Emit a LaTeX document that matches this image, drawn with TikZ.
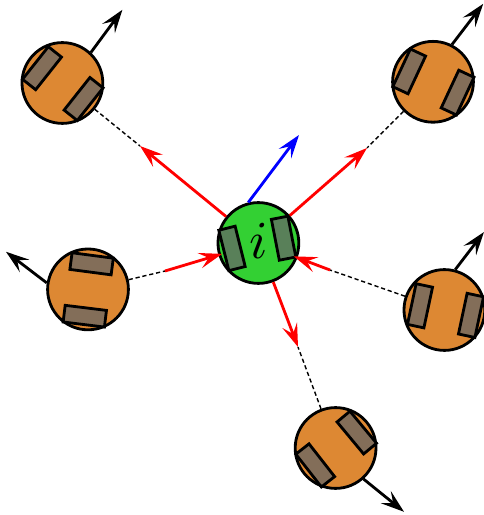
\documentclass[tikz,border=0pt]{standalone}
\usetikzlibrary{arrows.meta}
\definecolor{bodyorange}{RGB}{221,136,51}
\definecolor{bodygreen}{RGB}{51,208,51}
\tikzset{
    agent/.style={circle,draw,line width=2pt,minimum size=2.02cm,inner sep=0pt,fill=bodyorange},
    wheel/.style={rectangle,draw,line width=2pt,minimum width=1.04cm,minimum height=0.42cm,inner sep=0pt,
        fill=black!60,fill opacity=0.75},
    tip/.style={-{Stealth[length=5.8mm,width=3.9mm,inset=2.3mm]},line width=2pt},
    link/.style={dash pattern=on 3pt off 2pt,line width=1pt},
}
\begin{document}
\begin{tikzpicture}
    \useasboundingbox (0,0) rectangle (12.1,12.875);

    \node[agent,fill=bodygreen] (i) at (6.46,6.8) {};
    \node[wheel,rotate=104] (i-a) at (5.8,6.665) {};
    \node[wheel,rotate=101] (i-b) at (7.09,6.92) {};
    \node[scale=3.8] (i-label) at (6.47,6.85) {$i$};

    \node[agent] (tl) at (1.56,10.8) {};
    \node[wheel,rotate=51.6] (tl-a) at (1.05,11.17) {};
    \node[wheel,rotate=51.6] (tl-b) at (2.09,10.4) {};

    \node[agent] (tr) at (10.825,10.83) {};
    \node[wheel,rotate=65] (tr-a) at (10.23,11.09) {};
    \node[wheel,rotate=65] (tr-b) at (11.44,10.56) {};

    \node[agent] (l) at (2.2,5.64) {};
    \node[wheel,rotate=-7.5] (l-a) at (2.29,6.28) {};
    \node[wheel,rotate=-7] (l-b) at (2.12,4.97) {};

    \node[agent] (r) at (11.11,5.125) {};
    \node[wheel,rotate=78] (r-a) at (10.5,5.23) {};
    \node[wheel,rotate=78] (r-b) at (11.775,4.99) {};

    \node[agent] (b) at (8.39,1.675) {};
    \node[wheel,rotate=129.7] (b-a) at (8.92,2.06) {};
    \node[wheel,rotate=128] (b-b) at (7.88,1.24) {};

    % where the dashed part turns into the red arrow
    \coordinate (tl-mid) at (3.5,9.225);
    \coordinate (tr-mid) at (9.175,9.175);
    \coordinate (l-mid) at (4.125,6.1);
    \coordinate (r-mid) at (8.25,6.125);
    \coordinate (b-mid) at (7.45,4.2);

    \draw[link] (tl) -- (tl-mid);
    \draw[link] (tr) -- (tr-mid);
    \draw[link] (l) -- (l-mid);
    \draw[link] (r) -- (r-mid);
    \draw[link] (b) -- (b-mid);

    \draw[tip,red] (i) -- (tl-mid);
    \draw[tip,red] (i) -- (tr-mid);
    \draw[tip,red] (i) -- (b-mid);
    \draw[tip,red,shorten >=-0.1cm] (l-mid) -- (i);
    \draw[tip,red,shorten >=-0.1cm] (r-mid) -- (i);

    % heading of each agent
    \coordinate (i-head) at (7.475,9.5);
    \coordinate (tl-head) at (3.06,12.63);
    \coordinate (tr-head) at (12.08,12.78);
    \coordinate (l-head) at (0.15,6.58);
    \coordinate (r-head) at (12.1,7.075);
    \coordinate (b-head) at (10.1,0.08);

    \draw[tip,blue] (i.104) -- (i-head);
    \draw[tip] (tl.47) -- (tl-head);
    \draw[tip] (tr.63) -- (tr-head);
    \draw[tip] (l.171) -- (l-head);
    \draw[tip] (r.75) -- (r-head);
    \draw[tip] (b.-48) -- (b-head);
\end{tikzpicture}
\end{document}
